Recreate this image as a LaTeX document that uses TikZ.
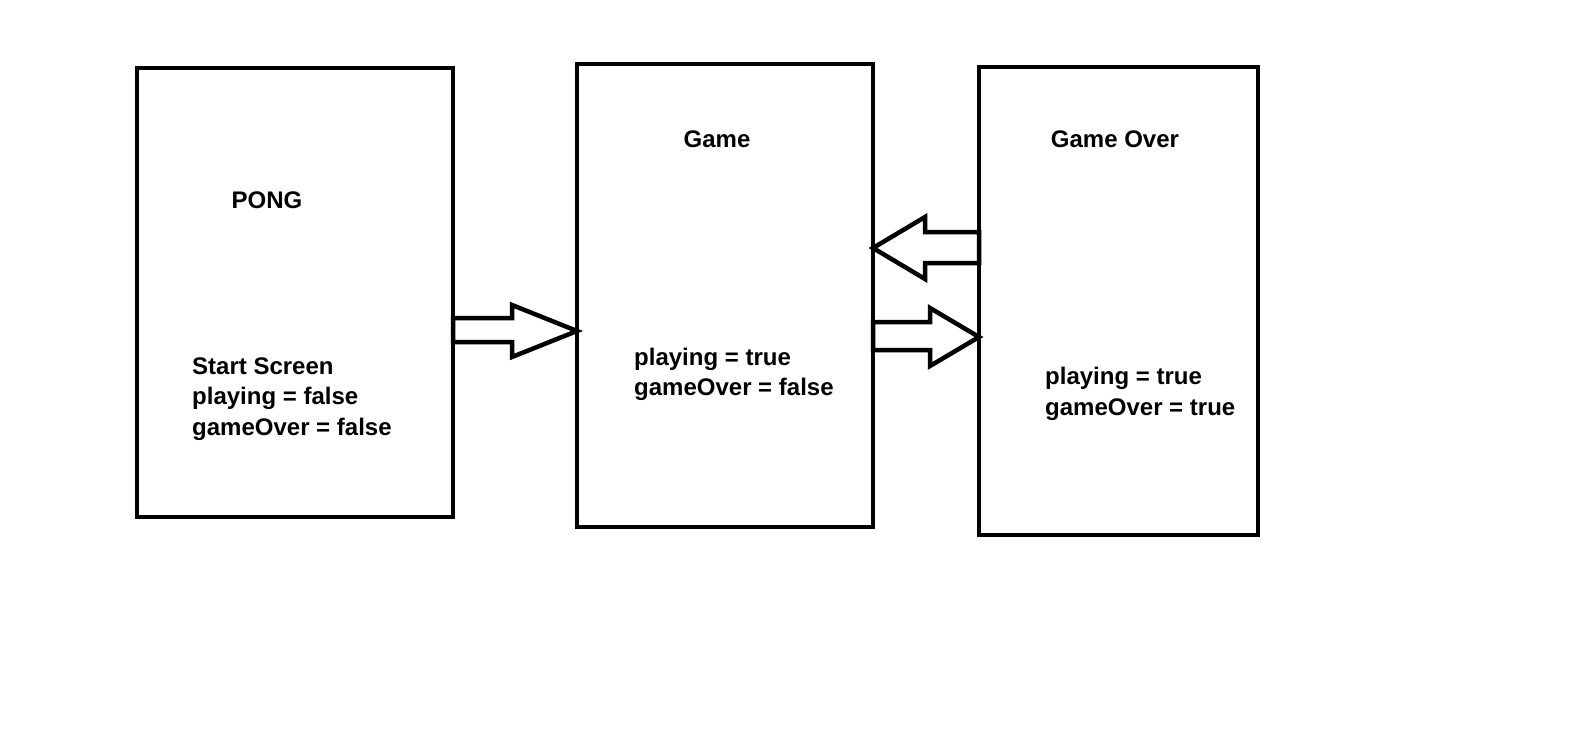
\documentclass[tikz,border=0pt]{standalone}
\usepackage{fontspec}
\setmainfont{Liberation Sans}
\tikzset{
  screen/.style={draw, line width=4.5pt, inner sep=0pt, outer sep=0pt},
  blockarrow/.style={draw, line width=4.5pt, line join=miter},
  label/.style={font=\bfseries\fontsize{24}{30.5}\selectfont, inner sep=0pt},
}
\begin{document}
\begin{tikzpicture}[x=1pt,y=-1pt]
\useasboundingbox (0,0) rectangle (1595,733);
% the three screens
\node[screen, minimum width=316pt, minimum height=449pt] (start) at (295,292.5) {};
\node[screen, minimum width=296pt, minimum height=463pt] (game) at (725,295.5) {};
\node[screen, minimum width=279pt, minimum height=468pt] (over) at (1118.5,301) {};
% titles
\node[label, anchor=base] (pong) at (267,208) {PONG};
\node[label, anchor=base] (gametitle) at (717,147) {Game};
\node[label, anchor=base] (overtitle) at (1115,147) {Game Over};
% state of each screen (anchored on the last line)
\node[label, anchor=base west, align=left] (startstate) at (192,435) {Start Screen\\playing = false\\gameOver = false};
\node[label, anchor=base west, align=left] (gamestate) at (634,395.5) {playing = true\\gameOver = false};
\node[label, anchor=base west, align=left] (overstate) at (1045,415) {playing = true\\gameOver = true};
% block arrows
\draw[blockarrow] (start.east |- 0,318) -- (512,318) -- (512,305) -- (game.west |- 0,331) -- (512,357) -- (512,342) -- (start.east |- 0,342) -- cycle;
\draw[blockarrow] (over.west |- 0,232) -- (925,232) -- (925,217) -- (game.east |- 0,248) -- (925,279) -- (925,263) -- (over.west |- 0,263) -- cycle;
\draw[blockarrow] (game.east |- 0,322) -- (930,322) -- (930,308) -- (over.west |- 0,337) -- (930,366) -- (930,350) -- (game.east |- 0,350) -- cycle;
\end{tikzpicture}
\end{document}
